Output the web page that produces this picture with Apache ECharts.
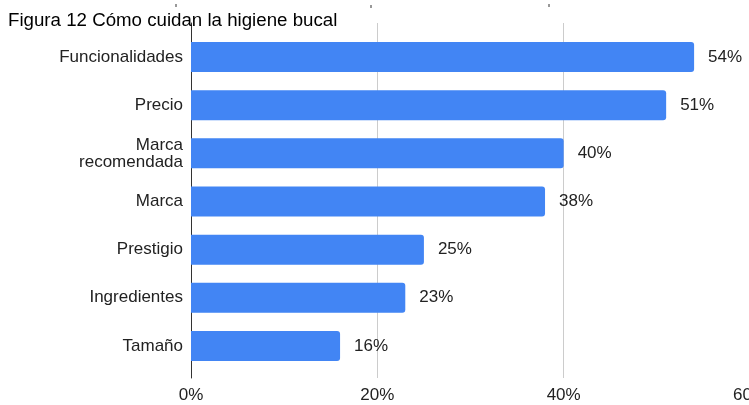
<!DOCTYPE html>
<html>
<head>
<meta charset="utf-8">
<script src="https://cdn.jsdelivr.net/npm/echarts@6/dist/echarts.min.js"></script>
<style>
  html, body { margin: 0; padding: 0; background: #fff; }
  #chart { width: 749px; height: 405px; }
</style>
</head>
<body>
<div id="chart"></div>
<script>
// Survey factors, top to bottom
const categories = ['Funcionalidades', 'Precio', 'Marca\nrecomendada', 'Marca', 'Prestigio', 'Ingredientes', 'Tamaño'];
// Share of respondents (%)
const values = [54, 51, 40, 38, 25, 23, 16];
// Value-axis ticks (%)
const ticks = [0, 20, 40, 60];

const FONT = '"Liberation Sans", Arial, sans-serif';

const chart = echarts.init(document.getElementById('chart'), null, { renderer: 'canvas' });

chart.setOption({
  animation: false,
  backgroundColor: '#ffffff',
  title: {
    text: 'Figura 12 Cómo cuidan la higiene bucal',
    left: 8,
    top: 11,
    padding: 0,
    textStyle: { fontFamily: FONT, fontSize: 18.7, fontWeight: 'normal', color: '#000000' }
  },
  grid: [
    // bars
    { left: 191, right: -1, top: 33, bottom: 35, containLabel: false, outerBoundsMode: 'none' },
    // gridlines, zero line and tick labels (slightly taller frame)
    { left: 191, right: -1, top: 23, bottom: 27, containLabel: false, outerBoundsMode: 'none' }
  ],
  xAxis: [
    {
      gridIndex: 0, type: 'value',
      min: ticks[0], max: ticks[ticks.length - 1], interval: 20,
      show: false
    },
    {
      gridIndex: 1, type: 'value',
      min: ticks[0], max: ticks[ticks.length - 1], interval: 20,
      axisLine: { show: false },
      axisTick: { show: false },
      splitLine: { show: true, lineStyle: { color: '#cccccc', width: 1 } },
      axisLabel: {
        margin: 9,
        fontFamily: FONT, fontSize: 17, color: '#222222',
        formatter: v => v + '%'
      }
    }
  ],
  yAxis: [
    {
      gridIndex: 0, type: 'category', data: categories, inverse: true,
      axisLine: { show: false },
      axisTick: { show: false },
      splitLine: { show: false },
      axisLabel: {
        margin: 8,
        fontFamily: FONT, fontSize: 17, color: '#222222', lineHeight: 17
      }
    },
    {
      gridIndex: 1, type: 'value', min: 0, max: 1,
      axisLine: { show: true, lineStyle: { color: '#333333', width: 1 } },
      axisTick: { show: false },
      axisLabel: { show: false },
      splitLine: { show: false }
    }
  ],
  series: [
    {
      type: 'bar',
      xAxisIndex: 0, yAxisIndex: 0,
      data: values,
      barWidth: 30,
      itemStyle: { color: '#4285f4', borderRadius: [0, 3, 3, 0] },
      label: {
        show: true,
        position: 'right',
        distance: 14,
        fontFamily: FONT, fontSize: 17, color: '#222222',
        formatter: p => p.value + '%'
      },
      z: 3
    }
  ],
  graphic: [
    { type: 'rect', shape: { x: 175, y: 4, width: 2, height: 3 }, style: { fill: '#999999' } },
    { type: 'rect', shape: { x: 370, y: 5, width: 2, height: 3 }, style: { fill: '#999999' } },
    { type: 'rect', shape: { x: 548, y: 4, width: 2, height: 3 }, style: { fill: '#999999' } }
  ]
});
</script>
</body>
</html>
